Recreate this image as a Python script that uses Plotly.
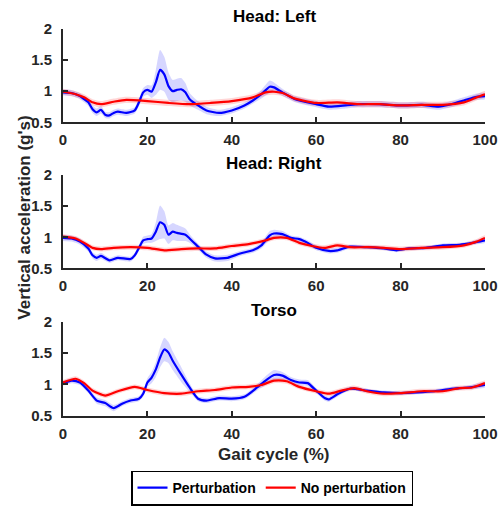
import plotly.graph_objects as go

panel_titles = ["Head: Left", "Head: Right", "Torso"]
series_names = ["Perturbation", "No perturbation"]
x_ticks = [0, 20, 40, 60, 80, 100]
y_ticks = [0.5, 1, 1.5, 2]
y_tick_text = ["0.5", "1", "1.5", "2"]
x_title = "Gait cycle (%)"
y_title = "Vertical acceleration (g's)"

# Head: Left
hl_pert_x = [0,2,4,5,6,7,8,9,10,11,12,13,15,17,18,19,20,21,22,23,24,25,26,27,28,29,30,32,34,37,40,43,45,47,49,50,52,55,60,63,67,70,75,80,85,89,92,95,98,100]
hl_pert_y = [0.98,0.97,0.92,0.87,0.82,0.71,0.66,0.70,0.62,0.61,0.65,0.67,0.65,0.69,0.82,0.98,1.02,0.99,1.14,1.34,1.27,1.08,1.00,1.02,1.03,0.98,0.87,0.77,0.69,0.65,0.69,0.77,0.85,0.95,1.07,1.06,0.98,0.87,0.79,0.75,0.77,0.79,0.79,0.77,0.78,0.75,0.79,0.85,0.91,0.92]
hl_pert_sd = [0.05,0.05,0.05,0.05,0.06,0.06,0.06,0.06,0.05,0.05,0.05,0.05,0.05,0.05,0.06,0.07,0.08,0.10,0.20,0.32,0.28,0.22,0.18,0.18,0.18,0.15,0.10,0.07,0.06,0.05,0.05,0.05,0.05,0.07,0.10,0.08,0.06,0.05,0.05,0.05,0.05,0.05,0.05,0.05,0.05,0.05,0.05,0.05,0.05,0.05]
hl_nopert_x = [0,3,5,7,9,12,15,20,25,30,35,40,45,48,50,52,55,60,65,70,75,80,85,90,95,98,100]
hl_nopert_y = [0.99,0.95,0.90,0.82,0.79,0.83,0.86,0.84,0.81,0.79,0.81,0.84,0.90,0.98,0.99,0.97,0.88,0.81,0.82,0.79,0.79,0.77,0.78,0.78,0.82,0.90,0.95]
hl_nopert_sd = [0.05] * len(hl_nopert_x)

# Head: Right
hr_pert_x = [0,2,4,6,7,8,9,11,13,16,17,18,19,20,21,22,23,24,25,26,27,29,30,32,34,36,39,42,45,47,49,50,52,54,56,58,60,63,65,68,72,76,79,82,86,90,94,97,100]
hr_pert_y = [0.99,0.98,0.93,0.82,0.71,0.67,0.70,0.63,0.67,0.65,0.71,0.83,0.95,0.97,0.98,1.09,1.24,1.20,1.04,1.09,1.07,1.04,0.98,0.85,0.72,0.66,0.67,0.74,0.79,0.87,1.03,1.06,1.05,0.99,0.97,0.91,0.83,0.78,0.79,0.85,0.84,0.82,0.79,0.82,0.83,0.87,0.88,0.91,0.95]
hr_pert_sd = [0.05,0.05,0.05,0.05,0.05,0.05,0.05,0.04,0.04,0.04,0.04,0.05,0.06,0.06,0.07,0.15,0.27,0.22,0.15,0.14,0.13,0.10,0.07,0.05,0.05,0.05,0.05,0.04,0.04,0.05,0.07,0.06,0.05,0.04,0.04,0.04,0.04,0.04,0.04,0.03,0.03,0.03,0.03,0.03,0.03,0.03,0.03,0.03,0.04]
hr_nopert_x = [0,3,5,7,9,12,16,20,24,28,32,36,40,44,48,50,53,56,59,62,65,68,72,76,80,85,90,95,98,100]
hr_nopert_y = [1.01,0.98,0.91,0.83,0.81,0.83,0.84,0.83,0.79,0.81,0.82,0.82,0.86,0.89,0.95,0.99,0.99,0.91,0.86,0.83,0.87,0.84,0.84,0.83,0.81,0.83,0.84,0.87,0.93,0.99]
hr_nopert_sd = [0.04] * len(hr_nopert_x)

# Torso
to_pert_x = [0,2,4,6,8,10,12,14,16,18,19,20,21,22,23,24,25,26,28,30,32,34,37,40,43,46,48,50,52,54,56,58,60,62,63,65,68,72,76,80,84,88,92,96,100]
to_pert_y = [1.02,1.06,1.03,0.90,0.74,0.70,0.62,0.69,0.74,0.77,0.85,1.03,1.11,1.24,1.43,1.56,1.51,1.38,1.16,0.95,0.77,0.74,0.78,0.77,0.80,0.95,1.06,1.15,1.14,1.07,1.03,1.02,0.90,0.78,0.76,0.84,0.93,0.90,0.87,0.86,0.87,0.89,0.93,0.95,0.99]
to_pert_sd = [0.04,0.04,0.04,0.04,0.05,0.05,0.05,0.04,0.04,0.04,0.05,0.07,0.09,0.12,0.16,0.19,0.17,0.15,0.12,0.07,0.04,0.04,0.04,0.04,0.04,0.05,0.07,0.08,0.06,0.05,0.05,0.05,0.04,0.04,0.04,0.04,0.03,0.03,0.03,0.03,0.03,0.03,0.03,0.03,0.04]
to_nopert_x = [0,3,5,7,10,13,17,20,24,28,32,36,40,44,47,50,53,56,60,63,66,69,72,76,80,85,90,94,97,100]
to_nopert_y = [1.03,1.09,1.02,0.90,0.82,0.89,0.96,0.91,0.86,0.85,0.89,0.91,0.95,0.96,0.99,1.06,1.05,0.96,0.89,0.85,0.90,0.94,0.89,0.85,0.86,0.89,0.89,0.94,0.95,1.02]
to_nopert_sd = [0.04] * len(to_nopert_x)

panels = [
    ((hl_pert_x, hl_pert_y, hl_pert_sd), (hl_nopert_x, hl_nopert_y, hl_nopert_sd)),
    ((hr_pert_x, hr_pert_y, hr_pert_sd), (hr_nopert_x, hr_nopert_y, hr_nopert_sd)),
    ((to_pert_x, to_pert_y, to_pert_sd), (to_nopert_x, to_nopert_y, to_nopert_sd)),
]

W, H = 503, 506
L_PX, R_PX = 63, 485
panel_px = [(29, 123), (176, 270), (324, 418)]
title_px = [17, 164, 312]

line_colors = ["rgb(0,0,255)", "rgb(255,0,0)"]
band_colors = ["rgba(0,0,255,0.16)", "rgba(255,0,0,0.16)"]
FONT = "Liberation Sans, Arial, sans-serif"
AX = "#262626"

fig = go.Figure()
for i, (pert, nopert) in enumerate(panels):
    sfx = "" if i == 0 else str(i + 1)
    xa, ya = "x" + sfx, "y" + sfx
    for k, (xs, ys, sds) in enumerate((pert, nopert)):
        up = [y + s for y, s in zip(ys, sds)]
        lo = [y - s for y, s in zip(ys, sds)]
        fig.add_trace(go.Scatter(
            x=list(xs) + list(xs)[::-1], y=up + lo[::-1],
            fill="toself", fillcolor=band_colors[k],
            line=dict(width=0, shape="spline", smoothing=0.6),
            mode="lines", hoverinfo="skip", showlegend=False, xaxis=xa, yaxis=ya))
    for k, (xs, ys, sds) in enumerate((pert, nopert)):
        fig.add_trace(go.Scatter(
            x=xs, y=ys, mode="lines", name=series_names[k],
            line=dict(color=line_colors[k], width=2.2, shape="spline", smoothing=0.6),
            showlegend=(i == 0), xaxis=xa, yaxis=ya))

layout = dict(
    width=W, height=H, margin=dict(l=0, r=0, t=0, b=0),
    paper_bgcolor="white", plot_bgcolor="white",
    font=dict(family=FONT, size=15, color=AX, weight="bold"),
    showlegend=True,
    legend=dict(orientation="h", x=272 / W, xref="paper",
                xanchor="center", y=1 - 491 / H, yanchor="middle",
                bordercolor="black", borderwidth=1.5, bgcolor="white",
                font=dict(size=14, color="black", weight="bold"),
                itemwidth=30, tracegroupgap=0),
)
x0 = L_PX / W
x1 = R_PX / W
annotations = []
for i, (top, bot) in enumerate(panel_px):
    sfx = "" if i == 0 else str(i + 1)
    layout["xaxis" + sfx] = dict(
        domain=[x0, x1], anchor="y" + sfx, range=[0, 100], tickvals=x_ticks,
        ticks="inside", ticklen=5, tickwidth=1.5, tickcolor=AX,
        showline=True, linecolor=AX, linewidth=2, showgrid=False, zeroline=False,
        automargin=False, ticklabelstandoff=3,
        tickfont=dict(size=15, color=AX, weight="bold"))
    layout["yaxis" + sfx] = dict(
        domain=[1 - bot / H, 1 - top / H], anchor="x" + sfx, range=[0.5, 2],
        tickvals=y_ticks, ticktext=y_tick_text,
        ticks="inside", ticklen=5, tickwidth=1.5, tickcolor=AX,
        showline=True, linecolor=AX, linewidth=2, showgrid=False, zeroline=False,
        automargin=False, ticklabelstandoff=6,
        tickfont=dict(size=15, color=AX, weight="bold"))
    annotations.append(dict(text=panel_titles[i], x=(x0 + x1) / 2, y=1 - title_px[i] / H,
                            xref="paper", yref="paper", showarrow=False, xanchor="center",
                            yanchor="middle", font=dict(size=17, color="black", weight="bold")))
annotations.append(dict(text=x_title, x=(x0 + x1) / 2, y=1 - 457 / H,
                        xref="paper", yref="paper", showarrow=False,
                        xanchor="center", yanchor="middle",
                        font=dict(size=17, color=AX, weight="bold")))
annotations.append(dict(text=y_title, x=25 / W, y=1 - 219 / H,
                        xref="paper", yref="paper", showarrow=False, textangle=-90,
                        xanchor="center", yanchor="middle",
                        font=dict(size=17, color=AX, weight="bold")))
layout["annotations"] = annotations
fig.update_layout(**layout)
fig.write_html("out.html", config={"displayModeBar": False},
               post_script="document.body.style.margin='0';document.body.style.overflow='hidden';")
